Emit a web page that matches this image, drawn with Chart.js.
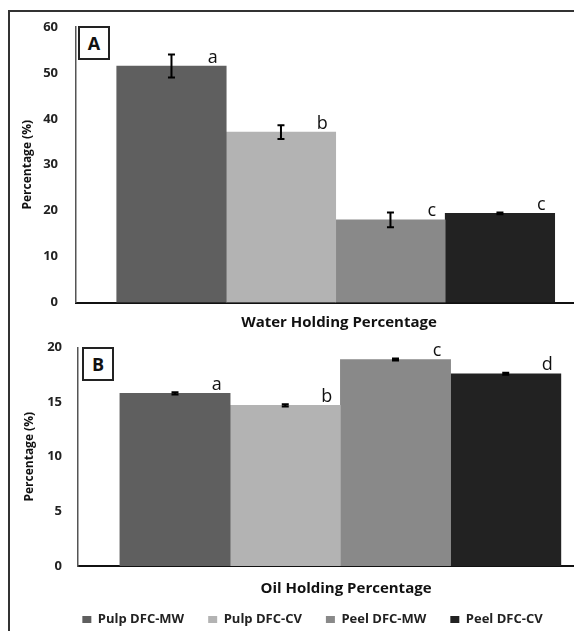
<!DOCTYPE html>
<html>
<head>
<meta charset="utf-8">
<script src="https://cdn.jsdelivr.net/npm/chart.js@4.4.1/dist/chart.umd.min.js"></script>
<style>
  body { margin: 0; background: #fff; }
  #wrap { position: relative; width: 574px; height: 631px; overflow: hidden; background: #fff; }
  #frame { position: absolute; left: 8px; top: 10px; width: 700px; height: 700px;
           border-top: 2px solid #333; border-left: 2px solid #333; }
  canvas { position: absolute; left: 0; }
  .tag { position: absolute; width: 28px; height: 30px; border: 2px solid #222; background: #fff;
         font: bold 18px "Open Sans", sans-serif; color: #111; text-align: center; line-height: 30px; }
</style>
</head>
<body>
<div id="wrap">
  <div id="frame"></div>
  <canvas id="waterChart" width="602" height="340" style="top:0"></canvas>
  <canvas id="oilChart" width="614" height="313" style="top:323px"></canvas>
  <div class="tag" style="left:78px;top:26px">A</div>
  <div class="tag" style="left:82px;top:347px">B</div>
</div>
<script>
// Data
var categories = ['Pulp DFC-MW', 'Pulp DFC-CV', 'Peel DFC-MW', 'Peel DFC-CV'];

var waterValues = [51.5, 37.1, 18.0, 19.4];
var waterErrors = [2.5, 1.5, 1.6, 0.2];
var waterLetters = ['a', 'b', 'c', 'c'];
var waterTicks = [0, 10, 20, 30, 40, 50, 60];

var oilValues = [15.8, 14.7, 18.9, 17.6];
var oilErrors = [0.1, 0.1, 0.1, 0.1];
var oilLetters = ['a', 'b', 'c', 'd'];
var oilTicks = [0, 5, 10, 15, 20];

// Bar colours, one per category
var barColors = ['#5f5f5f', '#b3b3b3', '#898989', '#222222'];

var FONT = '"Open Sans", sans-serif';

// One dataset per category so the legend comes for free.
function buildDatasets(values) {
    return categories.map(function (name, i) {
        return {
            label: name,
            data: [{ x: i, y: values[i] }],
            backgroundColor: barColors[i],
            borderWidth: 0,
            grouped: false,
            barPercentage: 1,
            categoryPercentage: 1
        };
    });
}

// Error bars and significance letters on top of each bar.
function marksPlugin(errors, letters) {
    return {
        id: 'marks',
        afterDatasetsDraw: function (chart) {
            var ctx = chart.ctx;
            var yScale = chart.scales.y;
            ctx.save();
            chart.data.datasets.forEach(function (ds, i) {
                var bar = chart.getDatasetMeta(i).data[0];
                var v = ds.data[0].y;
                var top = yScale.getPixelForValue(v + errors[i]);
                var bottom = yScale.getPixelForValue(v - errors[i]);
                ctx.strokeStyle = '#000';
                ctx.lineWidth = 2;
                ctx.beginPath();
                ctx.moveTo(bar.x, top);
                ctx.lineTo(bar.x, bottom);
                ctx.moveTo(bar.x - 3.5, top);
                ctx.lineTo(bar.x + 3.5, top);
                ctx.moveTo(bar.x - 3.5, bottom);
                ctx.lineTo(bar.x + 3.5, bottom);
                ctx.stroke();

                ctx.fillStyle = '#111';
                ctx.font = '18px ' + FONT;
                ctx.textAlign = 'center';
                ctx.textBaseline = 'alphabetic';
                ctx.fillText(letters[i], bar.x + bar.width / 2 - 13.5, bar.y - 3.5);
            });
            ctx.restore();
        }
    };
}

function makeChart(canvasId, cfg) {
    var ctx = document.getElementById(canvasId).getContext('2d');
    return new Chart(ctx, {
        type: 'bar',
        data: { datasets: buildDatasets(cfg.values) },
        options: {
            responsive: false,
            animation: false,
            layout: { padding: cfg.padding },
            plugins: {
                legend: cfg.legend,
                tooltip: { enabled: false }
            },
            scales: {
                x: {
                    type: 'linear',
                    offset: false,
                    min: cfg.xMin,
                    max: cfg.xMax,
                    grid: { display: false, drawTicks: false },
                    border: { display: true, color: '#111', width: 2 },
                    ticks: { display: false },
                    afterBuildTicks: function (scale) {
                        scale.ticks = categories.map(function (c, i) { return { value: i }; });
                    },
                    afterFit: function (scale) { scale.height = cfg.xHeight; },
                    title: {
                        display: true,
                        text: cfg.xTitle,
                        color: '#111',
                        font: { family: FONT, size: 15, weight: 'bold' },
                        padding: { top: 0, bottom: cfg.xTitlePad }
                    }
                },
                y: {
                    min: 0,
                    max: cfg.yTicks[cfg.yTicks.length - 1],
                    grid: { display: false, drawTicks: false },
                    border: { display: true, color: '#555', width: 1.5 },
                    afterBuildTicks: function (scale) {
                        scale.ticks = cfg.yTicks.map(function (v) { return { value: v }; });
                    },
                    afterFit: function (scale) { scale.width = cfg.yWidth; },
                    ticks: {
                        color: '#222',
                        padding: cfg.tickPad,
                        font: { family: FONT, size: 13, weight: 'bold' }
                    },
                    title: {
                        display: true,
                        text: 'Percentage (%)',
                        color: '#111',
                        font: { family: FONT, size: 12, weight: 'bold' },
                        padding: { top: cfg.yTitlePad, bottom: 0 }
                    }
                }
            }
        },
        plugins: [marksPlugin(cfg.errors, cfg.letters)]
    });
}

makeChart('waterChart', {
    values: waterValues,
    errors: waterErrors,
    letters: waterLetters,
    yTicks: waterTicks,
    xTitle: 'Water Holding Percentage',
    padding: { left: 0, top: 27, right: 0, bottom: 0 },
    xMin: -0.872, xMax: 3.932,
    xHeight: 37.5, xTitlePad: 8.5,
    yWidth: 76, tickPad: 18, yTitlePad: 20,
    legend: { display: false }
});

makeChart('oilChart', {
    values: oilValues,
    errors: oilErrors,
    letters: oilLetters,
    yTicks: oilTicks,
    xTitle: 'Oil Holding Percentage',
    padding: { left: 11, top: 24.5, right: 0, bottom: 0 },
    xMin: -0.880, xMax: 3.982,
    xHeight: 23, xTitlePad: -9,
    yWidth: 67, tickPad: 16, yTitlePad: 11,
    legend: {
        display: true,
        position: 'bottom',
        labels: {
            color: '#222',
            boxWidth: 9,
            boxHeight: 7,
            padding: 24,
            font: { family: FONT, size: 13, weight: 'bold' }
        }
    }
});
</script>
</body>
</html>
